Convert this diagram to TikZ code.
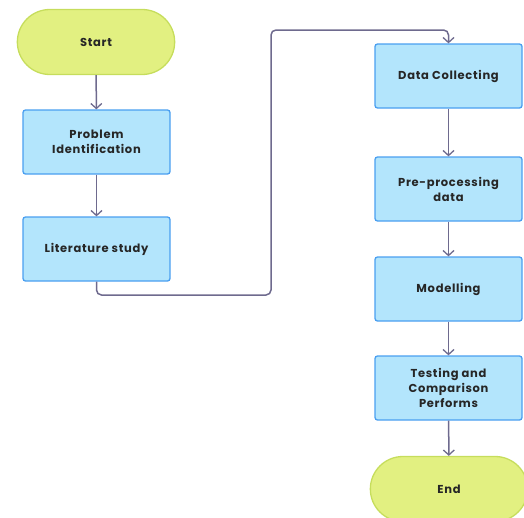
\documentclass[tikz,border=0pt]{standalone}
\usepackage{fontspec}
\setmainfont{Poppins}[LetterSpace=6]
\usetikzlibrary{arrows.meta,shapes.misc}
\definecolor{boxfill}{HTML}{B3E5FC}
\definecolor{boxline}{HTML}{4A9FF0}
\definecolor{termfill}{HTML}{E2F081}
\definecolor{termline}{HTML}{C6DD5C}
\definecolor{conn}{HTML}{6E6A8E}
\begin{document}
\begin{tikzpicture}[x=1pt,y=-1pt,
  procbox/.style={draw=boxline,fill=boxfill,line width=1.3pt,rounded corners=2.5pt,
    minimum width=147pt,minimum height=64pt,align=center,font=\fontsize{11.5}{15}\selectfont\bfseries,text=black!85},
  term/.style={draw=termline,fill=termfill,line width=1.3pt,rounded rectangle,
    minimum width=164pt,minimum height=65pt,align=center,font=\fontsize{11.5}{15}\selectfont\bfseries,text=black!85},
  flow/.style={draw=conn,line width=1.5pt,-{Straight Barb[length=5pt,width=11pt,line width=1.3pt]}}]
\useasboundingbox (0,0) rectangle (524,517);
\clip (0,0) rectangle (524,517);
\node[term] (start) at (96,42) {Start};
\node[procbox] (prob) at (96.5,142) {Problem\\Identification};
\node[procbox] (lit) at (96.5,249) {Literature study};
\node[procbox] (data) at (448.5,76) {Data Collecting};
\node[procbox] (pre) at (448.5,189) {Pre-processing\\data};
\node[procbox] (model) at (448.5,289) {Modelling};
\node[procbox] (test) at (448.5,388) {Testing and\\Comparison\\Performs};
\node[term] (end) at (449,489) {End};
\draw[flow] (start) -- (prob);
\draw[flow] (prob) -- (lit);
\draw[flow,rounded corners=5pt] (lit.south) -- (96.5,295) -- (271,295) -- (271,30) -- (448.5,30) -- (data.north);
\draw[flow] (data) -- (pre);
\draw[flow] (pre) -- (model);
\draw[flow] (model) -- (test);
\draw[flow] (test) -- (end);
\end{tikzpicture}
\end{document}
